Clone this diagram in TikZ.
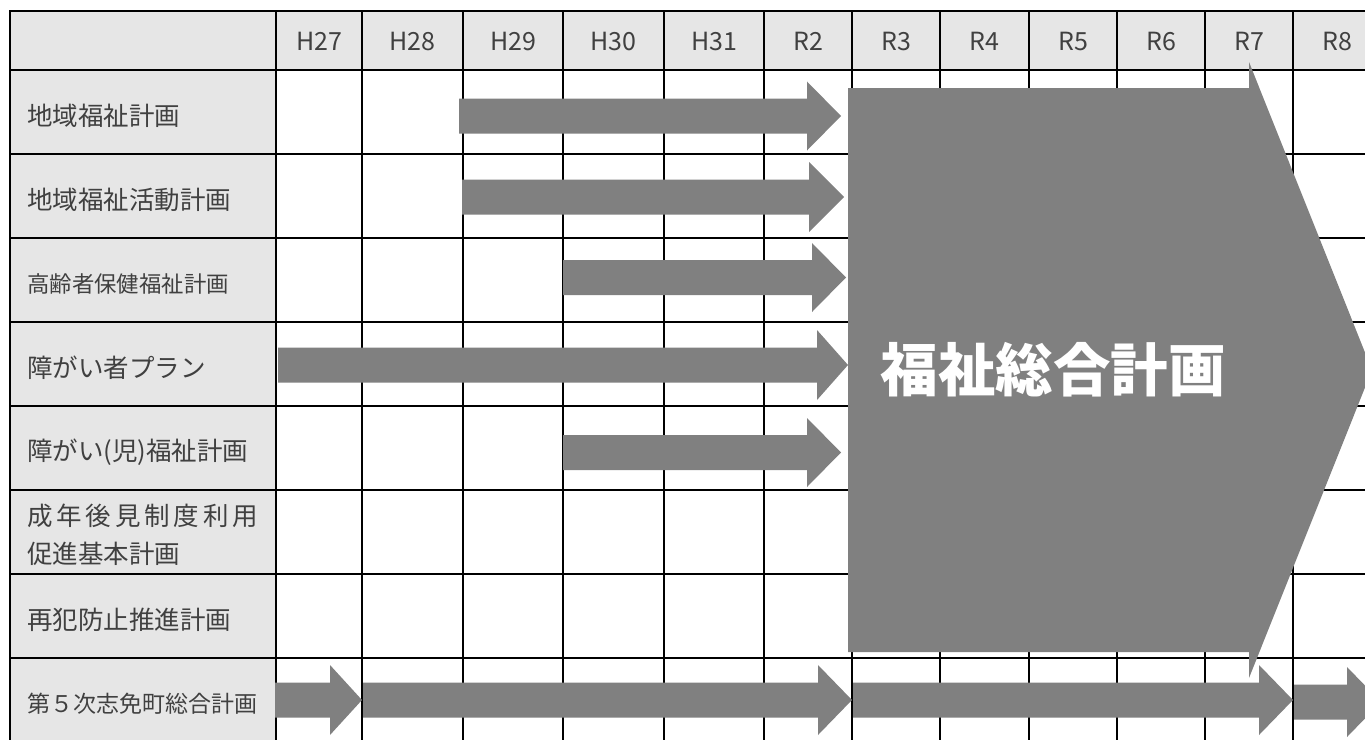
\documentclass[tikz,border=0pt]{standalone}
\usepackage{fontspec}
\setmainfont{Noto Sans CJK JP}
\definecolor{cellgray}{HTML}{E6E6E6}
\definecolor{arrowgray}{HTML}{808080}
\definecolor{txtgray}{HTML}{404040}
\newcommand\pbar[6]{% x start, head base, tip, y centre, body half, head half
  \fill[arrowgray] (#1,#4-#5) -- (#2,#4-#5) -- (#2,#4-#6) -- (#3,#4) -- (#2,#4+#6) -- (#2,#4+#5) -- (#1,#4+#5) -- cycle;}
\begin{document}
\begin{tikzpicture}[x=1pt,y=-1pt,
  gridline/.style={line width=2pt,black,line cap=rect},
  lbl/.style={anchor=west,inner sep=0pt,text=txtgray,font=\fontsize{25.5}{30}\selectfont},
  lblthree/.style={lbl,font=\fontsize{22.4}{26}\selectfont},
  lbleight/.style={lbl,font=\fontsize{23}{26}\selectfont},
  hdr/.style={anchor=center,inner sep=0pt,text=txtgray,font=\fontsize{25}{30}\selectfont},
  bigtext/.style={anchor=center,inner sep=0pt,text=white,font=\fontsize{57.5}{60}\selectfont\bfseries}]
\useasboundingbox (0,0) rectangle (1365,739);
\clip (0,0) rectangle (1365,739);
% cell fills
\fill[cellgray] (10,11) rectangle (1381,70);
\fill[cellgray] (10,70) rectangle (276,745);
% grid
\foreach \y in {11,70,154,238,322,406,490,574,658}
  \draw[gridline] (10,\y) -- (1381,\y);
\foreach \x in {10,276,362,463,563,664,764,852,940,1029,1117,1205,1293}
  \draw[gridline] (\x,11) -- (\x,745);
% header labels
\node[hdr] (h27) at (319,41) {H27};
\node[hdr] (h28) at (412.5,41) {H28};
\node[hdr] (h29) at (513,41) {H29};
\node[hdr] (h30) at (613.5,41) {H30};
\node[hdr] (h31) at (714,41) {H31};
\node[hdr] (r2) at (808,41) {R2};
\node[hdr] (r3) at (896,41) {R3};
\node[hdr] (r4) at (984.5,41) {R4};
\node[hdr] (r5) at (1073,41) {R5};
\node[hdr] (r6) at (1161,41) {R6};
\node[hdr] (r7) at (1249,41) {R7};
\node[hdr] (r8) at (1337,41) {R8};
% row labels
\node[lbl] (p1) at (27,116) {地域福祉計画};
\node[lbl] (p2) at (27,200) {地域福祉活動計画};
\node[lblthree] (p3) at (27,284) {高齢者保健福祉計画};
\node[lbl] (p4) at (27,368) {障がい者プラン};
\node[lbl] (p5) at (27,452) {障がい(児)福祉計画};
\node[lbl] (p6a) at (27,516) {\makebox[231pt][s]{成\hfill 年\hfill 後\hfill 見\hfill 制\hfill 度\hfill 利\hfill 用}};
\node[lbl] (p6b) at (27,554) {促進基本計画};
\node[lbl] (p7) at (27,620) {再犯防止推進計画};
\node[lbleight] (p8) at (27,704) {第５次志免町総合計画};
% plan arrows
\pbar{459}{807}{841}{116}{17.5}{34.5}
\pbar{462}{809}{844}{197}{17.5}{35}
\pbar{563}{812}{846}{277.5}{17.5}{34.5}
\pbar{278}{817}{848}{365}{17.5}{35}
\pbar{563}{807}{841}{452.5}{17.5}{34.5}
\pbar{275}{330}{362}{700}{17.5}{35}
\pbar{363}{818}{852}{700}{17.5}{35}
\pbar{853}{1259}{1293}{700}{17.5}{35}
\pbar{1294}{1347}{1381}{702}{17.5}{35}
% big arrow
\fill[arrowgray] (848,88) -- (1249,88) -- (1249,62) -- (1372,370) -- (1249,678) -- (1249,652) -- (848,652) -- cycle;
\node[bigtext] (total) at (1053,370) {福祉総合計画};
\end{tikzpicture}
\end{document}
